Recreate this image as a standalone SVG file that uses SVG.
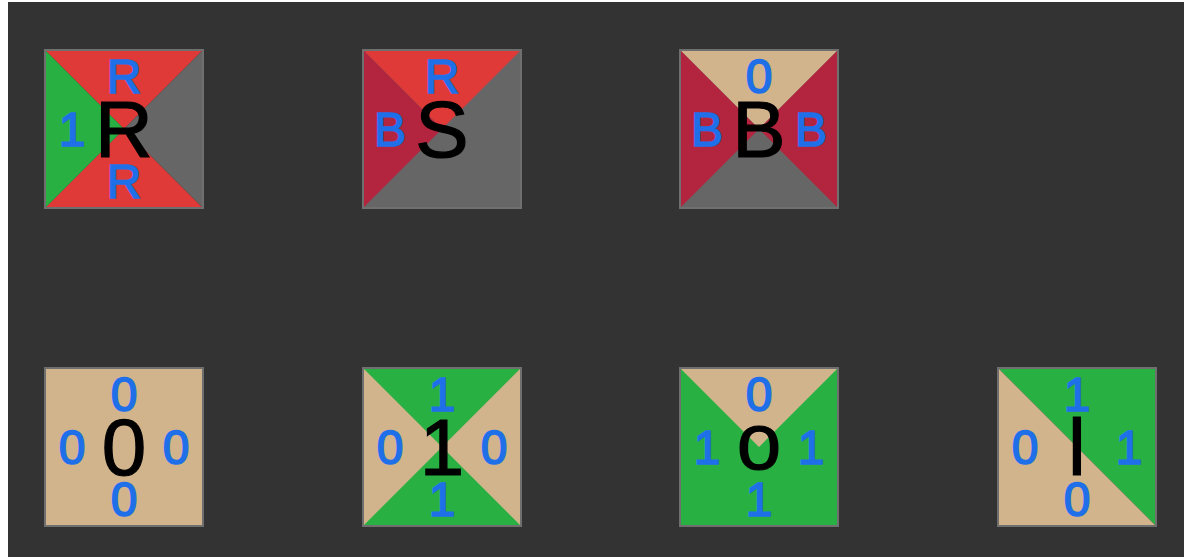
<svg xmlns="http://www.w3.org/2000/svg" width="1184" height="557" viewBox="0 0 1184 557">
<style>
.red{fill:#df3a37}
.grn{fill:#29b042}
.gry{fill:#666666}
.tan{fill:#d2b48c}
.crm{fill:#b3243f}
.frame{fill:none;stroke:#6f6f6f;stroke-width:2}
.lbl{font-family:"Liberation Sans",Arial,sans-serif;font-size:48px;fill:#1f6fe8;stroke:#1f6fe8;stroke-width:1.6;text-anchor:middle}
.ctr{font-family:"Liberation Sans",Arial,sans-serif;font-size:80px;fill:#000000;stroke:#000000;stroke-width:1.2;text-anchor:middle}
</style>
<rect x="0" y="0" width="1184" height="557" fill="#ffffff"/>
<rect x="8" y="2" width="1176" height="555" fill="#333333"/>

<g id="tile-R">
<polygon class="red" points="45,50 203,50 124,129"/>
<polygon class="red" points="45,208 203,208 124,129"/>
<polygon class="grn" points="45,50 45,208 124,129"/>
<polygon class="gry" points="203,50 203,208 124,129"/>
<rect class="frame" x="45" y="50" width="158" height="158"/>
<text class="lbl" x="124" y="93">R</text>
<text class="lbl" x="124" y="198">R</text>
<text class="lbl" x="72" y="146">1</text>
<text class="ctr" x="124" y="157">R</text>
</g>

<g id="tile-S">
<rect class="gry" x="363" y="50" width="158" height="158"/>
<polygon class="red" points="363,50 521,50 442,129"/>
<polygon class="crm" points="363,50 363,208 442,129"/>
<rect class="frame" x="363" y="50" width="158" height="158"/>
<text class="lbl" x="442" y="93">R</text>
<text class="lbl" x="390" y="146">B</text>
<text class="ctr" x="442" y="157">S</text>
</g>

<g id="tile-B">
<rect class="gry" x="680" y="50" width="158" height="158"/>
<polygon class="tan" points="680,50 838,50 759,129"/>
<polygon class="crm" points="680,50 680,208 759,129"/>
<polygon class="crm" points="838,50 838,208 759,129"/>
<rect class="frame" x="680" y="50" width="158" height="158"/>
<text class="lbl" x="759" y="93">0</text>
<text class="lbl" x="707" y="146">B</text>
<text class="lbl" x="811" y="146">B</text>
<text class="ctr" x="759" y="157">B</text>
</g>

<g id="tile-0">
<rect class="tan" x="45" y="368" width="158" height="158"/>
<rect class="frame" x="45" y="368" width="158" height="158"/>
<text class="lbl" x="124" y="411">0</text>
<text class="lbl" x="124" y="516">0</text>
<text class="lbl" x="72" y="464">0</text>
<text class="lbl" x="176" y="464">0</text>
<text class="ctr" x="124" y="475">0</text>
</g>

<g id="tile-1">
<rect class="tan" x="363" y="368" width="158" height="158"/>
<polygon class="grn" points="363,368 521,368 442,447"/>
<polygon class="grn" points="363,526 521,526 442,447"/>
<rect class="frame" x="363" y="368" width="158" height="158"/>
<text class="lbl" x="442" y="411">1</text>
<text class="lbl" x="442" y="516">1</text>
<text class="lbl" x="390" y="464">0</text>
<text class="lbl" x="494" y="464">0</text>
<text class="ctr" x="442" y="475">1</text>
</g>

<g id="tile-o">
<rect class="grn" x="680" y="368" width="158" height="158"/>
<polygon class="tan" points="680,368 838,368 759,447"/>
<rect class="frame" x="680" y="368" width="158" height="158"/>
<text class="lbl" x="759" y="411">0</text>
<text class="lbl" x="759" y="516">1</text>
<text class="lbl" x="707" y="464">1</text>
<text class="lbl" x="811" y="464">1</text>
<text class="ctr" x="759" y="469">o</text>
</g>

<g id="tile-l">
<polygon class="grn" points="998,368 1156,368 1156,526"/>
<polygon class="tan" points="998,368 998,526 1156,526"/>
<rect class="frame" x="998" y="368" width="158" height="158"/>
<text class="lbl" x="1077" y="411">1</text>
<text class="lbl" x="1077" y="516">0</text>
<text class="lbl" x="1025" y="464">0</text>
<text class="lbl" x="1129" y="464">1</text>
<text class="ctr" x="1077" y="475">l</text>
</g>

<g id="connectors"></g>
</svg>
